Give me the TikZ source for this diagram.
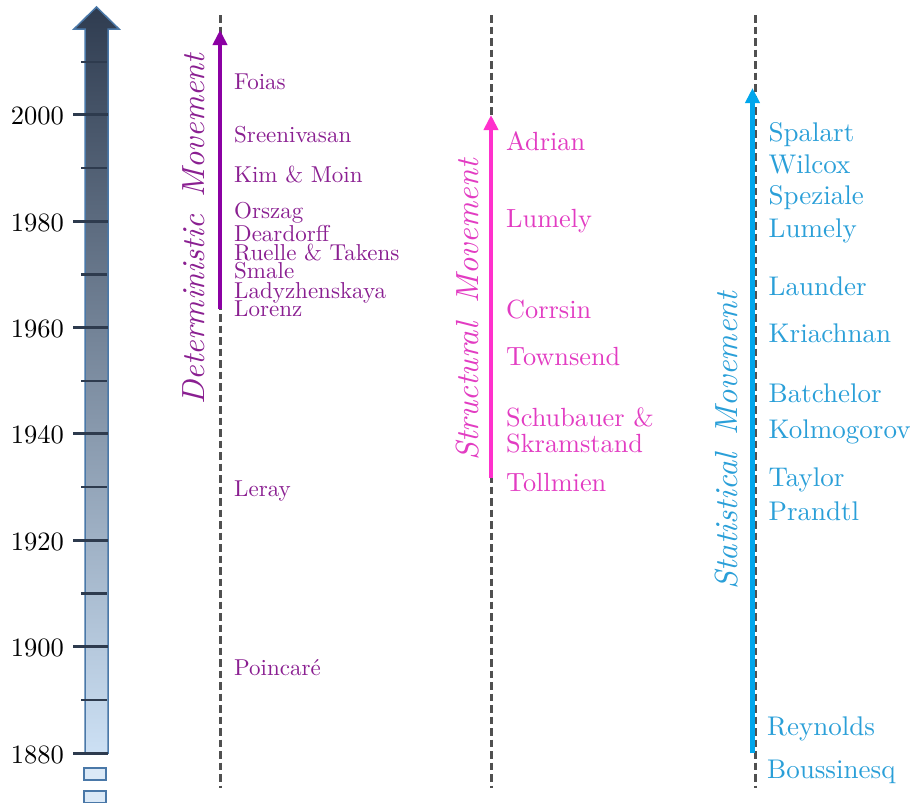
\documentclass[tikz,border=0pt]{standalone}
\usepackage{fontspec}
\setmainfont{lmroman10-regular}[Extension=.otf, ItalicFont=lmroman10-italic, BoldFont=lmroman10-bold]
\usetikzlibrary{arrows.meta}
\definecolor{detname}{HTML}{8A1F91}
\definecolor{detarrow}{HTML}{8B00A3}
\definecolor{strname}{HTML}{E23CC2}
\definecolor{strarrow}{HTML}{FF30CC}
\definecolor{staname}{HTML}{2A9FD8}
\definecolor{staarrow}{HTML}{00A6EC}
\definecolor{axisdark}{HTML}{2F3C50}
\definecolor{axislight}{HTML}{CCE0F4}
\definecolor{axisborder}{HTML}{4A78A8}
\definecolor{tickcol}{HTML}{2E3B4E}
\definecolor{dashcol}{HTML}{505050}
\tikzset{
  yearlbl/.style={anchor=base east, inner sep=0pt, font=\fontsize{26.5}{30}\selectfont},
  detlbl/.style={anchor=base west, inner sep=0pt, text=detname, font=\fontsize{23}{26}\selectfont},
  strlbl/.style={anchor=base west, inner sep=0pt, text=strname, font=\fontsize{26.3}{29}\selectfont},
  stalbl/.style={anchor=base west, inner sep=0pt, text=staname, font=\fontsize{27}{30}\selectfont},
  mvlabel/.style={rotate=90, anchor=base west, inner sep=0pt, font=\fontsize{32}{36}\selectfont\itshape},
  guide/.style={draw=dashcol, line width=3pt, dash pattern=on 7.5pt off 4pt},
  movearrow/.style={line width=4.5pt, -{Triangle[length=15pt,width=14pt]}},
  majortick/.style={draw=tickcol, line width=3pt},
  minortick/.style={draw=tickcol, line width=2.5pt},
  stub/.style={draw=axisborder, fill=axislight!70!white, line width=1.3pt}
}
\begin{document}
\begin{tikzpicture}[x=1pt,y=-1pt]
\useasboundingbox (0,0) rectangle (913,803);
% time axis arrow
\path[top color=axisdark, bottom color=axislight, draw=axisborder, line width=1.5pt]
  (85,753) -- (85,29) -- (74,29) -- (96.5,7) -- (119,29) -- (108,29) -- (108,753) -- cycle;
\foreach \yr in {1880,1900,...,2000}{
  \pgfmathsetmacro{\yy}{753-(\yr-1880)*5.317}
  \draw[majortick] (73,\yy) -- (108,\yy);
  \node[yearlbl] (y\yr) at (64,\yy+10) {\yr};
}
\foreach \yr in {1890,1910,...,2010}{
  \pgfmathsetmacro{\yy}{753-(\yr-1880)*5.317}
  \draw[minortick] (81,\yy) -- (107,\yy);
}
\draw[stub] (84,768) rectangle (106,780);
\draw[stub] (84,791) rectangle (106,803);
% guide lines
\coordinate (dTop) at (220,15); \coordinate (dBot) at (220,788);
\coordinate (sTop) at (491,15); \coordinate (sBot) at (491,788);
\coordinate (tTop) at (755,15); \coordinate (tBot) at (755,788);
\draw[guide] (dTop) -- (dBot);
\draw[guide] (sTop) -- (sBot);
\draw[guide] (tTop) -- (tBot);
% movement arrows
\coordinate (dA0) at (220,309); \coordinate (dA1) at (220,30);
\coordinate (sA0) at (491,478); \coordinate (sA1) at (491,115);
\coordinate (tA0) at (752.5,753); \coordinate (tA1) at (752.5,88);
\draw[movearrow, detarrow] (dA0) -- (dA1);
\draw[movearrow, strarrow] (sA0) -- (sA1);
\draw[movearrow, staarrow] (tA0) -- (tA1);
% rotated labels
\node[mvlabel, text=detname] (dlab) at (204,405) {Deterministic\hspace{0.55em}Movement};
\node[mvlabel, text=strname] (slab) at (478,461) {Structural\hspace{0.6em}Movement};
\node[mvlabel, text=staname] (tlab) at (737,590) {Statistical\hspace{0.55em}Movement};
% deterministic names
\node[detlbl] (n1) at (234,89.3) {Foias};
\node[detlbl] (n2) at (234,142.7) {Sreenivasan};
\node[detlbl] (n3) at (234,182.7) {Kim \& Moin};
\node[detlbl] (n4) at (234,218.3) {Orszag};
\node[detlbl] (n5) at (234,241.7) {Deardorff};
\node[detlbl] (n6) at (234,260) {Ruelle \& Takens};
\node[detlbl] (n7) at (234,278.3) {Smale};
\node[detlbl] (n8) at (234,298.3) {Ladyzhenskaya};
\node[detlbl] (n9) at (234,316.7) {Lorenz};
\node[detlbl] (n10) at (234,496.7) {Leray};
\node[detlbl] (n11) at (234,675) {Poincaré};
% structural names
\node[strlbl] (s1) at (506,150) {Adrian};
\node[strlbl] (s2) at (506,227.7) {Lumely};
\node[strlbl] (s3) at (506,318.3) {Corrsin};
\node[strlbl] (s4) at (506,365.7) {Townsend};
\node[strlbl] (s5) at (506,426.7) {Schubauer \&};
\node[strlbl] (s6) at (506,452.7) {Skramstand};
\node[strlbl] (s7) at (506,491) {Tollmien};
% statistical names
\node[stalbl] (t1) at (768.5,141) {Spalart};
\node[stalbl] (t2) at (768.5,173.3) {Wilcox};
\node[stalbl] (t3) at (768.5,204) {Speziale};
\node[stalbl] (t4) at (768.5,237.3) {Lumely};
\node[stalbl] (t5) at (768.5,295) {Launder};
\node[stalbl] (t6) at (768.5,342.7) {Kriachnan};
\node[stalbl] (t7) at (768.5,402.7) {Batchelor};
\node[stalbl] (t8) at (768.5,438.3) {Kolmogorov};
\node[stalbl] (t9) at (768.5,486.7) {Taylor};
\node[stalbl] (t10) at (768.5,520) {Prandtl};
\node[stalbl] (t11) at (767,735) {Reynolds};
\node[stalbl] (t12) at (767,778.3) {Boussinesq};
\end{tikzpicture}
\end{document}
